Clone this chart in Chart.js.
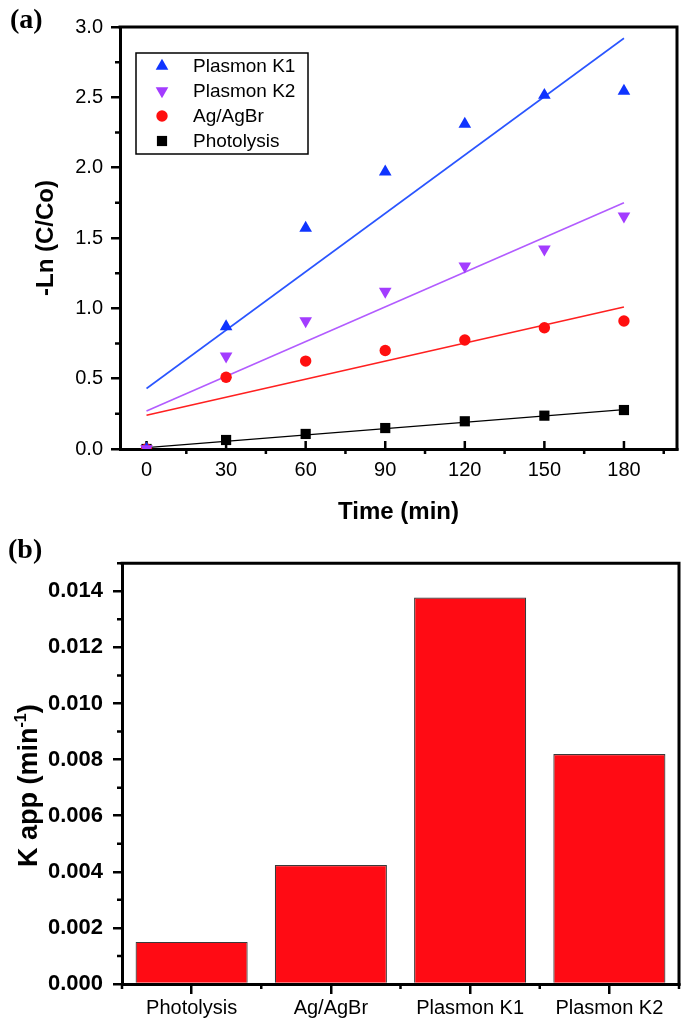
<!DOCTYPE html>
<html><head><meta charset="utf-8">
<script src="https://cdn.jsdelivr.net/npm/chart.js@4.4.1/dist/chart.umd.min.js"></script>
<style>
html,body{margin:0;padding:0;background:#fff;}
body{width:685px;height:1027px;position:relative;overflow:hidden;}
#c1{position:absolute;left:0;top:0;width:685px;height:540px;}
#c2{position:absolute;left:0;top:540px;width:685px;height:487px;}
.panel{position:absolute;font-family:'Liberation Serif','Times New Roman',serif;font-weight:bold;font-size:28px;color:#000;line-height:1;}
</style></head><body>
<canvas id="c1" width="685" height="540"></canvas>
<canvas id="c2" width="685" height="487"></canvas>
<div class="panel" style="left:10px;top:5px">(a)</div>
<div class="panel" style="left:8px;top:535px">(b)</div>
<script>
// ---------- data: panel (a) ----------
const times = [0, 30, 60, 90, 120, 150, 180];
const plasmonK1 = [0, 0.87, 1.57, 1.97, 2.31, 2.515, 2.545];
const plasmonK2 = [0, 0.66, 0.91, 1.12, 1.30, 1.42, 1.655];
const agAgBr = [0, 0.51, 0.625, 0.70, 0.775, 0.862, 0.91];
const photolysis = [0, 0.064, 0.107, 0.149, 0.197, 0.237, 0.277];
const fitTimes = [0, 180];
const fitK1 = [0.43, 2.92];
const fitK2 = [0.27, 1.75];
const fitAg = [0.24, 1.01];
const fitPhoto = [0.01, 0.28];
const xTicksA = [0, 30, 60, 90, 120, 150, 180];
const yTicksA = [0, 0.5, 1.0, 1.5, 2.0, 2.5, 3.0];
const legendOrder = ['Plasmon K1', 'Plasmon K2', 'Ag/AgBr', 'Photolysis'];

// ---------- data: panel (b) ----------
const catalysts = ['Photolysis', 'Ag/AgBr', 'Plasmon K1', 'Plasmon K2'];
const kApp = [0.0015, 0.00424, 0.01378, 0.0082];
const yTicksB = [0, 0.002, 0.004, 0.006, 0.008, 0.010, 0.012, 0.014];

const FONT = "'Liberation Sans', Arial, Helvetica, sans-serif";
const BLUE = '#0f34ff', BLUE_L = '#2a55ff';
const PURPLE = '#a33cff', PURPLE_L = '#b25cff';
const RED = '#ff0f0f', RED_L = '#ff2020';
const BLACK = '#000000';

const pts = (xs, ys) => xs.map((x, i) => ({x: x, y: ys[i]}));

const framePlugin = {
  id: 'frame',
  beforeDatasetsDraw(chart, args, o) {
    const {ctx, chartArea: a, scales} = chart;
    ctx.save();
    ctx.strokeStyle = '#000';
    ctx.lineCap = 'butt';
    ctx.lineWidth = 2.5;
    ctx.beginPath();
    (o.minorY || []).forEach(v => {
      const y = scales.y.getPixelForValue(v);
      ctx.moveTo(a.left - o.minorLen, y); ctx.lineTo(a.left, y);
    });
    (o.minorX || []).forEach(v => {
      const x = scales.x.getPixelForValue(v);
      ctx.moveTo(x, a.bottom); ctx.lineTo(x, a.bottom + o.minorLen);
    });
    (o.innerX || []).forEach(v => {
      const x = scales.x.getPixelForValue(v);
      ctx.moveTo(x, a.bottom); ctx.lineTo(x, a.bottom - o.innerLen);
    });
    ctx.stroke();
    ctx.lineWidth = 3;
    ctx.beginPath();
    ctx.moveTo(a.left - 1.5, a.top); ctx.lineTo(a.right, a.top); ctx.lineTo(a.right, a.bottom + 1.5);
    ctx.stroke();
    ctx.restore();
  }
};

const legendPlugin = {
  id: 'boxLegend',
  afterDraw(chart, args, o) {
    if (!o.show) return;
    const ctx = chart.ctx;
    ctx.save();
    ctx.strokeStyle = '#000';
    ctx.lineWidth = 1.5;
    ctx.strokeRect(o.x, o.y, o.w, o.h);
    ctx.font = '19px ' + FONT;
    ctx.textBaseline = 'middle';
    legendOrder.forEach((name, i) => {
      const ds = chart.data.datasets.find(d => d.label === name);
      const cy = o.y + 13 + i * 25;
      ctx.fillStyle = ds.backgroundColor;
      Chart.helpers.drawPoint(ctx, {pointStyle: ds.pointStyle, rotation: ds.rotation || 0, radius: ds.pointRadius, borderWidth: 0}, o.x + 26, cy);
      ctx.fillStyle = '#000';
      ctx.fillText(name, o.x + 57, cy + 1);
    });
    ctx.restore();
  }
};

const kTitlePlugin = {
  id: 'kTitle',
  afterDraw(chart) {
    const ctx = chart.ctx;
    const a = chart.chartArea;
    ctx.save();
    ctx.translate(30, (a.top + a.bottom) / 2 + 12);
    ctx.rotate(-Math.PI / 2);
    ctx.fillStyle = '#000';
    ctx.textBaseline = 'middle';
    const big = 'bold 27px ' + FONT, small = 'bold 16px ' + FONT;
    const p1 = 'K app (min', p2 = '-1', p3 = ')';
    ctx.font = big; const w1 = ctx.measureText(p1).width, w3 = ctx.measureText(p3).width;
    ctx.font = small; const w2 = ctx.measureText(p2).width;
    let x = -(w1 + w2 + w3) / 2;
    ctx.font = big; ctx.fillText(p1, x, 0); x += w1;
    ctx.font = small; ctx.fillText(p2, x, -8); x += w2;
    ctx.font = big; ctx.fillText(p3, x, 0);
    ctx.restore();
  }
};

const tickFont = {family: FONT, size: 20};

new Chart(document.getElementById('c1'), {
  type: 'scatter',
  data: {
    datasets: [
      {label: 'Plasmon K2', data: pts(times, plasmonK2), pointStyle: 'triangle', rotation: 180, pointRadius: 7.3, backgroundColor: PURPLE, borderColor: PURPLE, pointBorderWidth: 0, order: 0},
      {label: 'Plasmon K1', data: pts(times, plasmonK1), pointStyle: 'triangle', rotation: 0, pointRadius: 7.3, backgroundColor: BLUE, borderColor: BLUE, pointBorderWidth: 0, order: 1},
      {label: 'Ag/AgBr', data: pts(times, agAgBr), pointStyle: 'circle', pointRadius: 5.7, backgroundColor: RED, borderColor: RED, pointBorderWidth: 0, order: 2},
      {label: 'Photolysis', data: pts(times, photolysis), pointStyle: 'rect', pointRadius: 7.2, backgroundColor: BLACK, borderColor: BLACK, pointBorderWidth: 0, order: 3},
      {label: 'fitK1', data: pts(fitTimes, fitK1), showLine: true, pointRadius: 0, borderColor: BLUE_L, borderWidth: 1.6, order: 5},
      {label: 'fitK2', data: pts(fitTimes, fitK2), showLine: true, pointRadius: 0, borderColor: PURPLE_L, borderWidth: 1.6, order: 5},
      {label: 'fitAg', data: pts(fitTimes, fitAg), showLine: true, pointRadius: 0, borderColor: RED_L, borderWidth: 1.6, order: 5},
      {label: 'fitPhoto', data: pts(fitTimes, fitPhoto), showLine: true, pointRadius: 0, borderColor: BLACK, borderWidth: 1.4, order: 5}
    ]
  },
  options: {
    responsive: false, animation: false, events: [],
    layout: {padding: {top: 27, right: 8, left: 0, bottom: 0}},
    plugins: {
      legend: {display: false}, tooltip: {enabled: false},
      frame: {minorY: yTicksA.slice(0, -1).map(v => v + 0.25), minorX: xTicksA.map(v => v + 15), minorLen: 5, innerX: xTicksA, innerLen: 8},
      boxLegend: {show: true, x: 136, y: 53, w: 172, h: 101}
    },
    scales: {
      x: {
        type: 'linear', min: -10, max: 200,
        afterBuildTicks: s => { s.ticks = xTicksA.map(v => ({value: v})); },
        afterFit: s => { s.height = 91; },
        ticks: {font: tickFont, color: '#000', padding: 9, maxRotation: 0, autoSkip: false, callback: v => String(v)},
        grid: {drawOnChartArea: false, drawTicks: false, color: '#000', lineWidth: 2.5},
        border: {color: '#000', width: 3},
        title: {display: true, text: 'Time (min)', color: '#000', font: {family: FONT, size: 24, weight: 'bold'}, padding: {top: 0, bottom: 13.6}}
      },
      y: {
        type: 'linear', min: 0, max: 3,
        afterBuildTicks: s => { s.ticks = yTicksA.map(v => ({value: v})); },
        afterFit: s => { s.width = 120; },
        ticks: {font: tickFont, color: '#000', padding: 8, autoSkip: false, callback: v => Number(v).toFixed(1)},
        grid: {drawOnChartArea: false, tickLength: 9, color: '#000', lineWidth: 2.5},
        border: {color: '#000', width: 3},
        title: {display: true, text: '-Ln (C/Co)', color: '#000', font: {family: FONT, size: 24, weight: 'bold'}, padding: {top: 31.6, bottom: 0}}
      }
    }
  },
  plugins: [framePlugin, legendPlugin]
});

new Chart(document.getElementById('c2'), {
  type: 'bar',
  data: {
    labels: catalysts,
    datasets: [{label: 'K app', data: kApp, backgroundColor: '#ff0b14', borderColor: '#3a3a3a', borderWidth: 1.2, categoryPercentage: 0.805, barPercentage: 1.0}]
  },
  options: {
    responsive: false, animation: false, events: [],
    layout: {padding: {top: 20, right: 6, left: 0, bottom: 0}},
    plugins: {
      legend: {display: false}, tooltip: {enabled: false},
      frame: {minorY: yTicksB.map(v => v + 0.001), minorX: catalysts.map((c, i) => i - 0.5).concat([catalysts.length - 0.5]), minorLen: 5}
    },
    scales: {
      x: {
        type: 'category', offset: true,
        afterFit: s => { s.height = 43; },
        ticks: {font: tickFont, color: '#000', padding: 2, maxRotation: 0, autoSkip: false},
        grid: {offset: false, drawOnChartArea: false, tickLength: 10, color: '#000', lineWidth: 2.5},
        border: {color: '#000', width: 3}
      },
      y: {
        type: 'linear', min: 0, max: 0.015,
        afterBuildTicks: s => { s.ticks = yTicksB.map(v => ({value: v})); },
        afterFit: s => { s.width = 122; },
        ticks: {font: {family: FONT, size: 22, weight: 'bold'}, color: '#000', padding: 10, autoSkip: false, callback: v => Number(v).toFixed(3)},
        grid: {drawOnChartArea: false, tickLength: 9, color: '#000', lineWidth: 2.5},
        border: {color: '#000', width: 3},
        title: {display: false}
      }
    }
  },
  plugins: [framePlugin, kTitlePlugin]
});
</script>
</body></html>
